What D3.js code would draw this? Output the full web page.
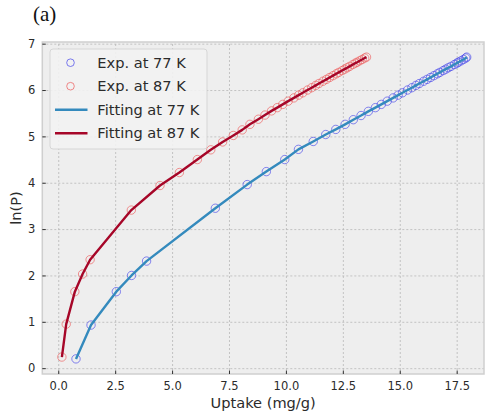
<!DOCTYPE html>
<html>
<head>
<style>
  body { margin: 0; background: #fff; }
  svg text { font-family: "DejaVu Sans", sans-serif; fill: #2b2b2b; }
  .grid line { stroke: #b8b8b8; stroke-width: 0.8; stroke-dasharray: 2,2; }
  .grid path { stroke-width: 0; }
</style>
</head>
<body>
<svg width="485" height="418"></svg>
<script src="https://cdn.jsdelivr.net/npm/d3@7"></script>
<script>
// isotherm data: ln(P) against uptake (mg/g)
var lnP77 = [0.20, 0.93, 1.65, 2.00, 2.31, 3.45, 3.96, 4.24, 4.50, 4.72, 4.89, 5.04, 5.15, 5.26, 5.36, 5.45, 5.54,
  5.62, 5.69, 5.76, 5.83, 5.89, 5.94, 6.00, 6.05, 6.10, 6.14, 6.19, 6.23, 6.27, 6.31, 6.35, 6.38, 6.42, 6.45, 6.48,
  6.51, 6.55, 6.58, 6.60, 6.63, 6.66, 6.69, 6.71];
var uptake77 = [0.78, 1.44, 2.55, 3.22, 3.88, 6.90, 8.30, 9.14, 9.95, 10.55, 11.20, 11.75, 12.19, 12.60, 12.96, 13.30, 13.62,
  13.93, 14.19, 14.45, 14.71, 14.93, 15.12, 15.34, 15.53, 15.71, 15.86, 16.05, 16.20, 16.35, 16.50, 16.65, 16.76, 16.91, 17.02, 17.13,
  17.25, 17.40, 17.51, 17.58, 17.69, 17.80, 17.90, 17.94];

var lnP87 = [0.24, 0.95, 1.65, 2.03, 2.34, 3.41, 3.94, 4.22, 4.50, 4.71, 4.88, 5.02, 5.14, 5.26, 5.37, 5.46, 5.55,
  5.62, 5.69, 5.76, 5.83, 5.89, 5.94, 6.00, 6.05, 6.10, 6.14, 6.19, 6.23, 6.27, 6.31, 6.35, 6.38, 6.42, 6.45, 6.48,
  6.51, 6.55, 6.58, 6.60, 6.63, 6.66, 6.69, 6.71];
var uptake87 = [0.16, 0.35, 0.73, 1.07, 1.40, 3.21, 4.47, 5.32, 6.11, 6.70, 7.22, 7.69, 8.08, 8.42, 8.79, 9.08, 9.37,
  9.62, 9.86, 10.10, 10.35, 10.56, 10.74, 10.95, 11.13, 11.31, 11.45, 11.63, 11.78, 11.92, 12.07, 12.21, 12.32, 12.47, 12.58, 12.69,
  12.80, 12.94, 13.05, 13.13, 13.24, 13.35, 13.46, 13.54];

var xTicks = [0, 2.5, 5, 7.5, 10, 12.5, 15, 17.5];
var yTicks = [0, 1, 2, 3, 4, 5, 6, 7];

var series = [
  {name: "Exp. at 77 K", fit: "Fitting at 77 K", x: uptake77, y: lnP77, marker: "#4646ea", line: "#348ABD"},
  {name: "Exp. at 87 K", fit: "Fitting at 87 K", x: uptake87, y: lnP87, marker: "#ec5a5a", line: "#A60628"}
];

var svg = d3.select("svg");
var plotL = 42.3, plotR = 484, plotT = 42, plotB = 374;

var x = d3.scaleLinear().domain([-0.70, 18.70]).range([plotL, plotR]);
var y = d3.scaleLinear().domain([-0.126, 7.036]).range([plotB, plotT]);

svg.append("text").attr("x", 33).attr("y", 21)
  .style("font-family", "'Liberation Serif', serif").style("font-size", "21px").style("fill", "#111")
  .text("(a)");

svg.append("rect").attr("x", plotL).attr("y", plotT)
  .attr("width", plotR - plotL).attr("height", plotB - plotT)
  .attr("fill", "#eeeeee");

// grid
svg.append("g").attr("class", "grid")
  .attr("transform", "translate(0," + plotB + ")")
  .call(d3.axisBottom(x).tickValues(xTicks).tickSize(-(plotB - plotT)).tickFormat(""));
svg.append("g").attr("class", "grid")
  .attr("transform", "translate(" + plotL + ",0)")
  .call(d3.axisLeft(y).tickValues(yTicks).tickSize(-(plotR - plotL)).tickFormat(""));

// frame
svg.append("rect").attr("x", plotL).attr("y", plotT)
  .attr("width", plotR - plotL).attr("height", plotB - plotT)
  .attr("fill", "none").attr("stroke", "#cfcfcf").attr("stroke-width", 1.5);

svg.append("clipPath").attr("id", "plot")
  .append("rect").attr("x", plotL).attr("y", plotT).attr("width", plotR - plotL).attr("height", plotB - plotT);
var plot = svg.append("g").attr("clip-path", "url(#plot)");

series.forEach(function(s) {
  plot.append("g").selectAll("circle")
    .data(s.x.map(function(v, i) { return [v, s.y[i]]; }))
    .enter().append("circle")
    .attr("cx", function(d) { return x(d[0]); })
    .attr("cy", function(d) { return y(d[1]); })
    .attr("r", 4.2)
    .attr("fill", "none")
    .attr("stroke", s.marker)
    .attr("stroke-opacity", 0.65)
    .attr("stroke-width", 1);
});

// fitted curves follow the points
var line = d3.line()
  .x(function(d) { return x(d[0]); })
  .y(function(d) { return y(d[1]); });

series.forEach(function(s) {
  plot.append("path")
    .datum(s.x.map(function(v, i) { return [v, s.y[i]]; }))
    .attr("d", line)
    .attr("fill", "none")
    .attr("stroke", s.line)
    .attr("stroke-width", 2.4)
    .attr("stroke-linejoin", "round");
});

// axes
var xAxis = svg.append("g").attr("transform", "translate(0," + plotB + ")")
  .call(d3.axisBottom(x).tickValues(xTicks).tickSize(-3.5).tickPadding(8).tickFormat(d3.format(".1f")));
xAxis.select(".domain").remove();
xAxis.selectAll("line").attr("stroke", "#333");
xAxis.selectAll("text").style("font-size", "11.5px");

var yAxis = svg.append("g").attr("transform", "translate(" + plotL + ",0)")
  .call(d3.axisLeft(y).tickValues(yTicks).tickSize(-3.5).tickPadding(7));
yAxis.select(".domain").remove();
yAxis.selectAll("line").attr("stroke", "#333");
yAxis.selectAll("text").style("font-size", "11.5px");

svg.append("text")
  .attr("x", (plotL + plotR) / 2).attr("y", 408)
  .attr("text-anchor", "middle")
  .style("font-size", "14.6px")
  .text("Uptake (mg/g)");

svg.append("text")
  .attr("transform", "translate(21," + ((plotT + plotB) / 2) + ") rotate(-90)")
  .attr("text-anchor", "middle")
  .style("font-size", "14.6px")
  .text("ln(P)");

// legend
var legend = svg.append("g");
legend.append("rect")
  .attr("x", 50).attr("y", 49).attr("width", 157).attr("height", 100).attr("rx", 3)
  .attr("fill", "#f2f2f2").attr("fill-opacity", 0.9)
  .attr("stroke", "#d6d6d6").attr("stroke-width", 1);

var rows = [
  {label: series[0].name, kind: "marker", color: series[0].marker},
  {label: series[1].name, kind: "marker", color: series[1].marker},
  {label: series[0].fit, kind: "line", color: series[0].line},
  {label: series[1].fit, kind: "line", color: series[1].line}
];

var item = legend.selectAll("g.item")
  .data(rows)
  .enter().append("g")
  .attr("class", "item")
  .attr("transform", function(d, i) { return "translate(0," + (62.7 + i * 23.5) + ")"; });

item.filter(function(d) { return d.kind === "marker"; })
  .append("circle")
  .attr("cx", 70.5).attr("cy", 0).attr("r", 3.8)
  .attr("fill", "none").attr("stroke", function(d) { return d.color; })
  .attr("stroke-opacity", 0.7).attr("stroke-width", 1);

item.filter(function(d) { return d.kind === "line"; })
  .append("line")
  .attr("x1", 55).attr("x2", 87.5).attr("y1", 0).attr("y2", 0)
  .attr("stroke", function(d) { return d.color; }).attr("stroke-width", 2.4);

item.append("text")
  .attr("x", 97.3).attr("dy", "0.35em")
  .style("font-size", "14.6px")
  .text(function(d) { return d.label; });
</script>
</body>
</html>
